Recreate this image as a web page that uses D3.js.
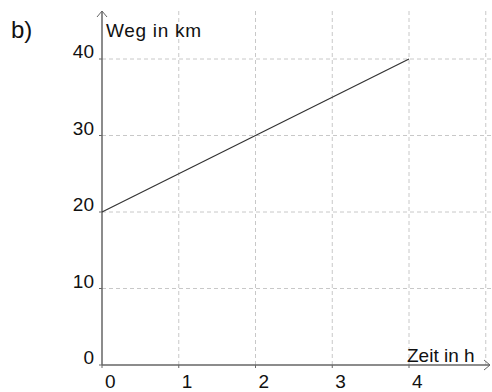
<!DOCTYPE html>
<html><head><meta charset="utf-8">
<script src="https://cdn.jsdelivr.net/npm/d3@7"></script>
<style>body{margin:0;background:#fff}svg{display:block;font-family:"Liberation Sans",Arial,sans-serif}</style>
</head><body>
<svg id="c" width="492" height="392"></svg>
<script>
const timeValues = [0, 4];
const distValues = [20, 40];
const xTicks = [0, 1, 2, 3, 4];
const yTicks = [0, 10, 20, 30, 40];
const xGrid = [1, 2, 3, 4, 5];
const yGrid = [10, 20, 30, 40];
const xLabel = "Zeit in h";
const yLabel = "Weg in km";
const partLabel = "b)";

const svg = d3.select("#c");
const x = d3.scaleLinear().domain([0, 4]).range([102, 409]);
const y = d3.scaleLinear().domain([0, 40]).range([365, 59]);
const topY = 11, rightX = 490;

// grid
svg.append("g").selectAll("line").data(xGrid).join("line")
  .attr("x1", d => x(d)).attr("x2", d => x(d)).attr("y1", topY).attr("y2", y(0))
  .attr("stroke", "#c8c8c8").attr("stroke-width", 1).attr("stroke-dasharray", "4,3");
svg.append("g").selectAll("line").data(yGrid).join("line")
  .attr("x1", x(0)).attr("x2", 492).attr("y1", d => y(d)).attr("y2", d => y(d))
  .attr("stroke", "#c8c8c8").attr("stroke-width", 1).attr("stroke-dasharray", "4,3");

// axes
const ax = svg.append("g").attr("stroke", "#666").attr("stroke-width", 1.5).attr("fill", "none");
ax.append("line").attr("x1", x(0)).attr("x2", rightX).attr("y1", y(0)).attr("y2", y(0));
ax.append("line").attr("x1", x(0)).attr("x2", x(0)).attr("y1", y(0)).attr("y2", topY);
ax.append("path").attr("stroke-width", 1).attr("d", `M${rightX-6},${y(0)-5}L${rightX},${y(0)}L${rightX-6},${y(0)+5}`);
ax.append("path").attr("stroke-width", 1).attr("d", `M${x(0)-5},${topY+6}L${x(0)},${topY}L${x(0)+5},${topY+6}`);
// tick marks
ax.selectAll(".xt").data(xTicks).join("line").attr("class","xt")
  .attr("x1", d => x(d)).attr("x2", d => x(d)).attr("y1", y(0)).attr("y2", y(0) + 3).attr("stroke-width", 1);
ax.selectAll(".yt").data(yTicks).join("line").attr("class","yt")
  .attr("x1", x(0) - 3).attr("x2", x(0)).attr("y1", d => y(d)).attr("y2", d => y(d)).attr("stroke-width", 1);

// tick labels
svg.append("g").selectAll("text").data(xTicks).join("text")
  .attr("x", d => x(d) + 3).attr("y", 388).attr("font-size", 19).attr("fill", "#111").text(d => d);
svg.append("g").selectAll("text").data(yTicks).join("text")
  .attr("x", x(0) - 8).attr("y", d => y(d) - 1).attr("text-anchor", "end")
  .attr("font-size", 19).attr("fill", "#111").text(d => d);

// axis labels
svg.append("text").attr("x", 106).attr("y", 37).attr("font-size", 19).attr("letter-spacing", 0.7).attr("fill", "#111").text(yLabel);
svg.append("text").attr("x", 407).attr("y", 362).attr("font-size", 19).attr("fill", "#111").text(xLabel);
svg.append("text").attr("x", 11).attr("y", 38).attr("font-size", 24).attr("fill", "#111").text(partLabel);

// data line
svg.append("path").datum(timeValues.map((t, i) => [t, distValues[i]]))
  .attr("fill", "none").attr("stroke", "#333").attr("stroke-width", 1.2)
  .attr("d", d3.line().x(d => x(d[0])).y(d => y(d[1])));
</script>
</body></html>
